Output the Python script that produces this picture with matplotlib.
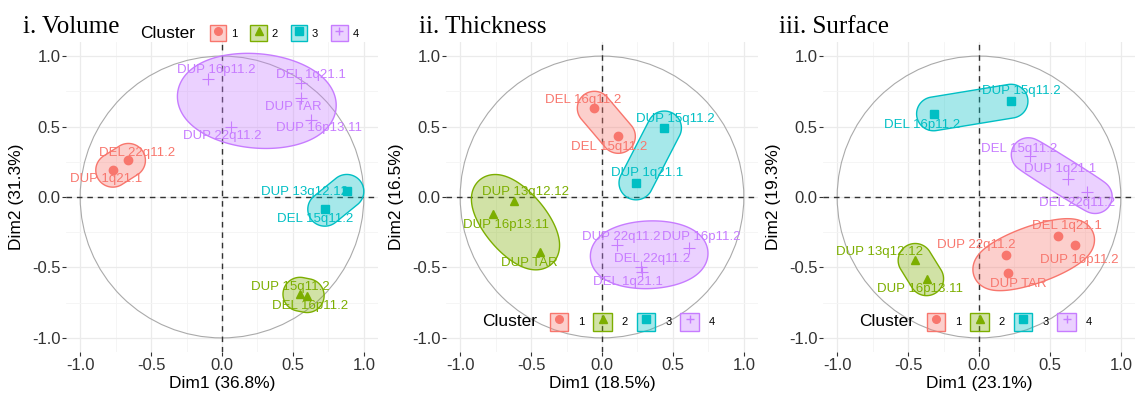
import matplotlib
matplotlib.use('Agg')
import matplotlib.pyplot as plt
import numpy as np
from matplotlib.lines import Line2D
from matplotlib.patches import Rectangle, Polygon, Circle
from matplotlib.colors import to_rgba

plt.rcParams['font.family'] = ['Liberation Sans', 'DejaVu Sans']
plt.rcParams['axes.unicode_minus'] = False

colors = ['#F8766D', '#7CAE00', '#00BFC4', '#C77CFF']
markers = ['o', '^', 's', '+']
cluster_labels = ['1', '2', '3', '4']

# i. Volume
vol_names = ['DEL 22q11.2', 'DUP 1q21.1', 'DUP 16p11.2', 'DEL 1q21.1', 'DUP TAR',
             'DUP 16p13.11', 'DUP 22q11.2', 'DUP 13q12.12', 'DEL 15q11.2',
             'DUP 15q11.2', 'DEL 16p11.2']
vol_x = [-0.66, -0.77, -0.10, 0.56, 0.56, 0.63, 0.06, 0.88, 0.725, 0.55, 0.60]
vol_y = [0.26, 0.19, 0.84, 0.81, 0.70, 0.55, 0.50, 0.04, -0.087, -0.69, -0.70]
vol_cluster = [1, 1, 4, 4, 4, 4, 4, 3, 3, 2, 2]
vol_dims = ['36.8%', '31.3%']

# ii. Thickness
thk_names = ['DEL 16q11.2', 'DEL 15q11.2', 'DUP 15q11.2', 'DUP 1q21.1', 'DUP 13q12.12',
             'DUP 16p13.11', 'DUP TAR', 'DUP 22q11.2', 'DUP 16p11.2', 'DEL 22q11.2',
             'DEL 1q21.1']
thk_x = [-0.054, 0.115, 0.44, 0.24, -0.62, -0.77, -0.44, 0.108, 0.61, 0.275, 0.28]
thk_y = [0.63, 0.43, 0.49, 0.10, -0.026, -0.12, -0.39, -0.34, -0.36, -0.50, -0.53]
thk_cluster = [1, 1, 3, 3, 2, 2, 2, 4, 4, 4, 4]
thk_dims = ['18.5%', '16.5%']

# iii. Surface
srf_names = ['DEL 16p11.2', 'DUP 15q11.2', 'DEL 15q11.2', 'DUP 1q21.1', 'DEL 22q11.2',
             'DEL 1q21.1', 'DUP 16p11.2', 'DUP 22q11.2', 'DUP TAR', 'DUP 13q12.12',
             'DUP 16p13.11']
srf_x = [-0.32, 0.225, 0.36, 0.63, 0.76, 0.554, 0.676, 0.188, 0.206, -0.45, -0.37]
srf_y = [0.59, 0.68, 0.29, 0.13, 0.035, -0.28, -0.34, -0.41, -0.54, -0.45, -0.58]
srf_cluster = [3, 3, 4, 4, 4, 1, 1, 1, 1, 2, 2]
srf_dims = ['23.1%', '19.3%']

# label offsets (repelled text positions)
vol_dx = [0.06, -0.05, 0.06, 0.065, -0.06, 0.055, -0.06, -0.295, -0.07, -0.07, 0.02]
vol_dy = [0.055, -0.065, 0.06, 0.055, -0.064, -0.063, -0.067, -0.007, -0.07, 0.054, -0.07]
thk_dx = [-0.08, -0.065, 0.08, 0.075, 0.08, 0.09, -0.07, 0.03, 0.09, 0.075, -0.095]
thk_dy = [0.06, -0.073, 0.063, 0.072, 0.064, -0.08, -0.08, 0.054, 0.074, 0.06, -0.07]
srf_dx = [-0.08, 0.075, -0.08, -0.06, -0.07, 0.065, 0.03, -0.21, 0.07, -0.25, -0.045]
srf_dy = [-0.08, 0.074, 0.05, 0.066, -0.08, 0.074, -0.107, 0.07, -0.077, 0.06, -0.07]


def mvee(P, tol=1e-6):
    n, d = P.shape
    Q = np.vstack([P.T, np.ones(n)])
    u = np.ones(n) / n
    for _ in range(5000):
        X = Q @ np.diag(u) @ Q.T
        M = np.diag(Q.T @ np.linalg.inv(X) @ Q)
        j = np.argmax(M)
        step = (M[j] - d - 1) / ((d + 1) * (M[j] - 1))
        new_u = (1 - step) * u
        new_u[j] += step
        if np.linalg.norm(new_u - u) < tol:
            u = new_u
            break
        u = new_u
    c = P.T @ u
    A = np.linalg.inv(P.T @ np.diag(u) @ P - np.outer(c, c)) / d
    return c, A


def mark_ellipse(px, py, pad=0.12):
    P = np.column_stack([px, py])
    if len(P) == 2:
        c = P.mean(axis=0)
        v = P[1] - P[0]
        a = np.linalg.norm(v) / 2
        b = 0.0
        ang = np.arctan2(v[1], v[0])
        R = np.array([[np.cos(ang), -np.sin(ang)], [np.sin(ang), np.cos(ang)]])
    else:
        c, A = mvee(P)
        w, V = np.linalg.eigh(A)
        a, b = 1 / np.sqrt(w[0]), 1 / np.sqrt(w[1])
        R = V
    th = np.linspace(0, 2 * np.pi, 400)
    nx, ny = np.cos(th), np.sin(th)
    den = np.sqrt(a**2 * nx**2 + b**2 * ny**2)
    sx = a**2 * nx / den + pad * nx
    sy = b**2 * ny / den + pad * ny
    pts = R @ np.vstack([sx, sy])
    return np.column_stack([pts[0] + c[0], pts[1] + c[1]])


fig = plt.figure(figsize=(11.37, 3.95), dpi=100)
fig.patch.set_facecolor('white')

panels = [
    ('i. Volume', vol_names, vol_x, vol_y, vol_cluster, vol_dims, vol_dx, vol_dy),
    ('ii. Thickness', thk_names, thk_x, thk_y, thk_cluster, thk_dims, thk_dx, thk_dy),
    ('iii. Surface', srf_names, srf_x, srf_y, srf_cluster, srf_dims, srf_dx, srf_dy),
]
lefts = [66 / 1137, 446 / 1137, 823 / 1137]
title_x = [23 / 1137, 419 / 1137, 779 / 1137]

handles = [(Rectangle((0, 0), 1, 1, fc=to_rgba(c, 0.35), ec=c, lw=1),
            Line2D([], [], marker=m, color=c, ls='', ms=5.5, mew=1))
           for c, m in zip(colors, markers)]

for i, (title, names, xs, ys, cl, dims, dx, dy) in enumerate(panels):
    ax = fig.add_axes([lefts[i], 43 / 395, 312 / 1137, 310 / 395])
    ax.set_xlim(-1.1, 1.1)
    ax.set_ylim(-1.1, 1.1)
    for s in ax.spines.values():
        s.set_visible(False)
    ax.set_xticks([-1, -0.5, 0, 0.5, 1])
    ax.set_yticks([-1, -0.5, 0, 0.5, 1])
    ax.set_xticks([-0.75, -0.25, 0.25, 0.75], minor=True)
    ax.set_yticks([-0.75, -0.25, 0.25, 0.75], minor=True)
    ax.set_xticklabels(['-1.0', '-0.5', '0.0', '0.5', '1.0'])
    ax.set_yticklabels(['-1.0', '-0.5', '0.0', '0.5', '1.0'])
    ax.grid(which='major', color='#EBEBEB', lw=0.9)
    ax.grid(which='minor', color='#F4F4F4', lw=0.6)
    ax.set_axisbelow(True)
    ax.tick_params(which='minor', length=0)
    ax.tick_params(which='major', length=3, color='#333333', labelsize=12,
                   labelcolor='#333333', pad=1)
    ax.add_patch(Circle((0, 0), 1, fill=False, ec='#AAAAAA', lw=0.8, zorder=1))
    ax.axhline(0, color='#333333', ls=(0, (4, 3.5)), lw=1, zorder=2)
    ax.axvline(0, color='#333333', ls=(0, (4, 3.5)), lw=1, zorder=2)

    xs = np.array(xs)
    ys = np.array(ys)
    cl = np.array(cl)
    for k in range(1, 5):
        sel = cl == k
        col = colors[k - 1]
        outline = mark_ellipse(xs[sel], ys[sel])
        ax.add_patch(Polygon(outline, closed=True, fc=to_rgba(col, 0.35),
                             ec=col, lw=1, zorder=3))
        ax.plot(xs[sel], ys[sel], ls='', marker=markers[k - 1], color=col,
                ms=6 if k != 4 else 9, mew=1 if k != 4 else 0.8, zorder=4)
    for n, x, y, c, ox, oy in zip(names, xs, ys, cl, dx, dy):
        ax.text(x + ox, y + oy, n, color=colors[c - 1], fontsize=9.5,
                ha='center', va='center', zorder=5)

    ax.set_xlabel(f'Dim1 ({dims[0]})', fontsize=12.5)
    ax.set_ylabel(f'Dim2 ({dims[1]})', fontsize=12.5)
    ax.xaxis.set_label_coords(0.5, -0.077)
    ax.yaxis.set_label_coords(-0.135, 0.5)

    fig.text(title_x[i], 1 - 27 / 395, title, family='Liberation Serif',
             fontsize=18, va='center', ha='left')

# legends
fig.text(140 / 1137, 1 - 33 / 395, 'Cluster', fontsize=12.5, va='center')
fig.legend(handles, cluster_labels, ncol=4, loc='center left',
           bbox_to_anchor=(210 / 1137, 1 - 33 / 395), frameon=False, fontsize=8,
           handlelength=1.45, handleheight=1.84, handletextpad=0.45,
           columnspacing=1.18, borderpad=0, borderaxespad=0)
for cx, bx in [(482, 550), (859, 927)]:
    fig.text(cx / 1137, 1 - 322 / 395, 'Cluster', fontsize=12.5, va='center')
    fig.legend(handles, cluster_labels, ncol=4, loc='center left',
               bbox_to_anchor=(bx / 1137, 1 - 322 / 395), frameon=False, fontsize=8,
               handlelength=1.65, handleheight=2.16, handletextpad=0.9,
               columnspacing=0.8, borderpad=0, borderaxespad=0)

fig.savefig('out.png', dpi=100)
